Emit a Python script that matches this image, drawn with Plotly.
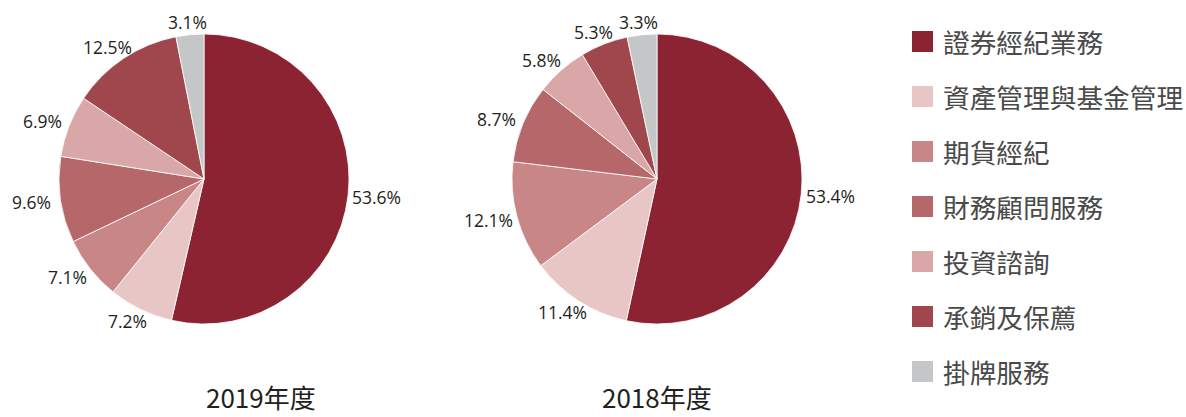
import math
import plotly.graph_objects as go

# Data
categories = ['證券經紀業務', '資產管理與基金管理', '期貨經紀', '財務顧問服務',
              '投資諮詢', '承銷及保薦', '掛牌服務']
share_2019 = [53.6, 7.2, 7.1, 9.6, 6.9, 12.5, 3.1]
share_2018 = [53.4, 11.4, 12.1, 8.7, 5.8, 5.3, 3.3]
pie_titles = ['2019年度', '2018年度']

colors = ['#8C2332', '#E8C6C6', '#C88686', '#B5676A', '#D9A7A8', '#A0474D', '#C5C6C8']

W, H = 1186, 417
label_font = dict(family='Open Sans, Noto Sans, sans-serif', size=17.5, color='#231F20')
cjk_font = 'Noto Sans CJK TC, Noto Sans, sans-serif'

fig = go.Figure()

# pie centres / radius in pixels
centres = [(204, 179), (657, 179)]
radius = 143

for vals, (cx, cy), title in zip([share_2019, share_2018], centres, pie_titles):
    r_dom = radius + 2
    fig.add_trace(go.Pie(
        labels=categories,
        values=vals,
        sort=False,
        direction='clockwise',
        rotation=0,
        marker=dict(colors=colors, line=dict(color='white', width=0.8)),
        textinfo='none',
        hoverinfo='label+value',
        showlegend=False,
        domain=dict(x=[(cx - r_dom) / W, (cx + r_dom) / W],
                    y=[1 - (cy + r_dom) / H, 1 - (cy - r_dom) / H]),
    ))

    # percentage labels just outside each slice
    total = sum(vals)
    cum = 0
    for v in vals:
        theta = math.radians((cum + v / 2) / total * 360)
        cum += v
        s, c = math.sin(theta), math.cos(theta)
        px = cx + (radius + 6) * s + 25 * s
        py = cy - (radius + 6) * c - 9 * c
        fig.add_annotation(x=px / W, y=1 - py / H, xref='paper', yref='paper',
                           text=f'{v:.1f}%', showarrow=False,
                           xanchor='center', yanchor='middle', font=label_font)

    fig.add_annotation(x=cx / W, y=0, xref='paper', yref='paper',
                       text=title, showarrow=False, yanchor='bottom',
                       font=dict(family=cjk_font, size=26, color='#231F20'))

# Legend drawn manually to match spacing
for i, (name, col) in enumerate(zip(categories, colors)):
    yc = 41.5 + 55 * i
    fig.add_shape(type='rect', xref='paper', yref='paper',
                  x0=912 / W, x1=933 / W,
                  y0=1 - (yc + 10.5) / H, y1=1 - (yc - 10.5) / H,
                  fillcolor=col, line=dict(width=0))
    fig.add_annotation(x=941 / W, y=1 - yc / H, xref='paper', yref='paper',
                       xanchor='left', yanchor='middle', text=name, showarrow=False,
                       font=dict(family=cjk_font, size=26.7, color='#4A4A4A'))

fig.update_layout(
    width=W, height=H,
    margin=dict(l=0, r=0, t=0, b=0),
    paper_bgcolor='white',
    plot_bgcolor='white',
)

fig.write_html("out.html", config={'displayModeBar': False},
               post_script="document.body.style.margin='0';document.body.style.overflow='hidden';")
